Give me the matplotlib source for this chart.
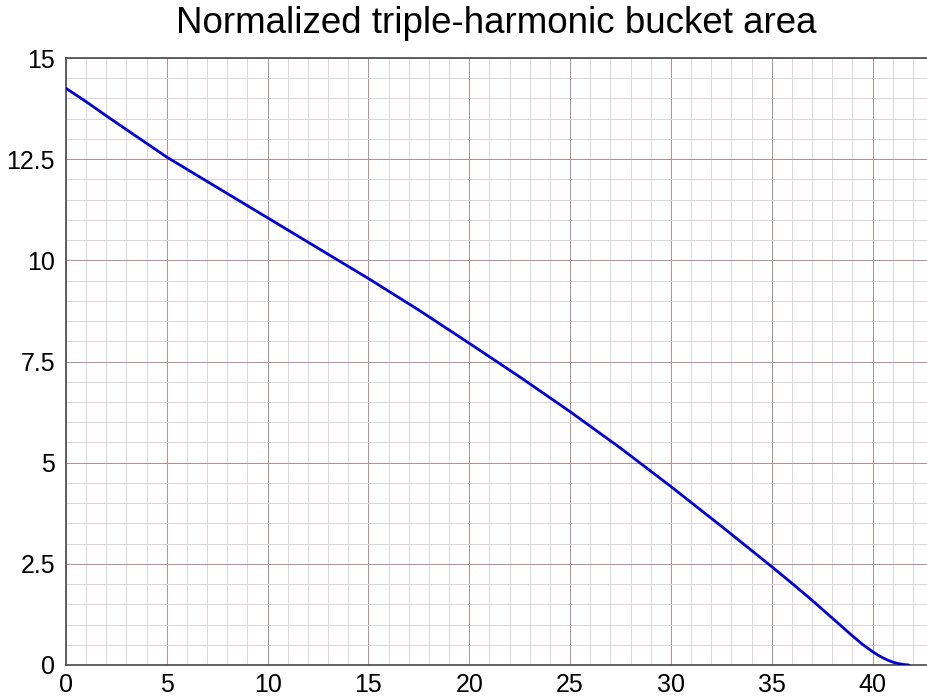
import numpy as np
import matplotlib
matplotlib.use("Agg")
import matplotlib.pyplot as plt
from matplotlib.ticker import FixedLocator

# bucket area vs. parameter
param = [0, 1, 2, 3, 4, 5, 7.5, 10, 12.5, 15, 17.5, 20, 22.5, 25, 27.5,
         30, 32.5, 35, 36, 37, 38, 39, 39.5, 40, 40.25, 40.5, 40.75, 41,
         41.25, 41.5, 41.8]
area = [14.25, 13.92, 13.57, 13.23, 12.89, 12.55, 11.8, 11.05, 10.3, 9.55,
        8.77, 7.95, 7.12, 6.26, 5.36, 4.41, 3.43, 2.43, 2.02, 1.60, 1.16,
        0.72, 0.51, 0.33, 0.25, 0.18, 0.12, 0.072, 0.038, 0.014, 0.0]

x_ticks = [0, 5, 10, 15, 20, 25, 30, 35, 40]
y_ticks = [0, 2.5, 5, 7.5, 10, 12.5, 15]
y_labels = ["0", "2.5", "5", "7.5", "10", "12.5", "15"]

# minor grid positions, skipping the major ones
x_minor = [i for i in range(0, 43) if i % 5 != 0]
y_minor = [i / 2 for i in range(0, 31) if i % 5 != 0]

plt.rcParams['font.family'] = ['Liberation Sans', 'DejaVu Sans']

fig = plt.figure(figsize=(9.27, 7.0), dpi=100)
ax = fig.add_axes([66/927, 35/700, 1 - 66/927, 607/700])

ax.plot(param, area, color='#0000dd', lw=2.0, solid_capstyle='round', zorder=3)

ax.set_xlim(0, 42.7)
ax.set_ylim(0, 15)
ax.set_xticks(x_ticks)
ax.set_yticks(y_ticks)
ax.set_yticklabels(y_labels)
ax.xaxis.set_minor_locator(FixedLocator(x_minor))
ax.yaxis.set_minor_locator(FixedLocator(y_minor))

# 1-pixel grid lines
ax.grid(which='minor', color='#dcd6da', lw=0.72, antialiased=False)
ax.grid(which='major', color='#b88f92', lw=0.72, antialiased=False)
ax.set_axisbelow(True)

ax.tick_params(which='both', length=0, labelsize=18, colors='black')
ax.tick_params(axis='x', pad=6)
ax.tick_params(axis='y', pad=8)

for side in ['left', 'bottom', 'top']:
    ax.spines[side].set_color('#555555')
    ax.spines[side].set_linewidth(1.3)
ax.spines['right'].set_visible(False)

ax.set_title("Normalized triple-harmonic bucket area", fontsize=26.5, pad=18)

fig.savefig("out.png", dpi=100)
